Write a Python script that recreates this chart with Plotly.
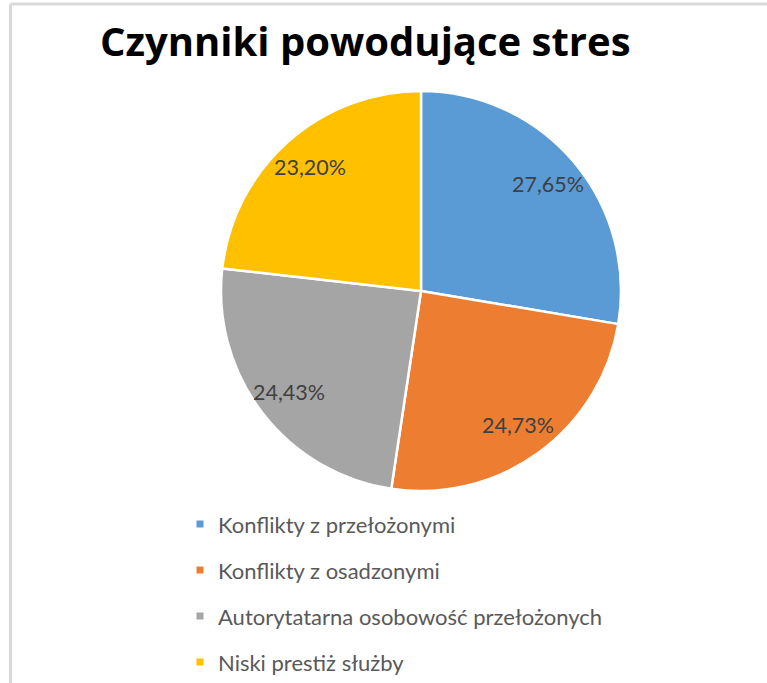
import math
import plotly.graph_objects as go

# Data
labels = [
    "Konflikty z przełożonymi",
    "Konflikty z osadzonymi",
    "Autorytatarna osobowość przełożonych",
    "Niski prestiż służby",
]
values = [27.65, 24.73, 24.43, 23.20]
value_texts = ["27,65%", "24,73%", "24,43%", "23,20%"]
colors = ["#5B9BD5", "#ED7D31", "#A5A5A5", "#FFC000"]
title_text = "Czynniki powodujące stres"

W, H = 767, 683

# Pie geometry in pixels
cx, cy, R = 421, 291, 200
dom_x = [(cx - R) / W, (cx + R) / W]
dom_y = [(H - (cy + R)) / H, (H - (cy - R)) / H]

fig = go.Figure()
fig.add_trace(go.Pie(
    labels=labels,
    values=values,
    sort=False,
    direction="clockwise",
    rotation=0,
    marker=dict(colors=colors, line=dict(color="white", width=2.5)),
    textinfo="none",
    hoverinfo="label+percent",
    showlegend=False,
    domain=dict(x=dom_x, y=dom_y),
))

annotations = []
shapes = []

# Value labels placed along each slice's mid-angle
total = sum(values)
cum = 0.0
label_r = 0.83 * R
for v, t in zip(values, value_texts):
    mid = (cum + v / 2) / total * 2 * math.pi
    cum += v
    px = cx + label_r * math.sin(mid)
    py = cy - label_r * math.cos(mid)
    annotations.append(dict(
        x=px / W, y=1 - py / H, xref="paper", yref="paper",
        text=t, showarrow=False, xanchor="center", yanchor="middle",
        font=dict(family="Lato, sans-serif", size=21.5, color="#404040"),
    ))

# Title
annotations.append(dict(
    x=365 / W, y=1 - 40 / H, xref="paper", yref="paper",
    text="<b>" + title_text + "</b>", showarrow=False,
    xanchor="center", yanchor="middle",
    font=dict(family="Open Sans, sans-serif", size=40, color="#000000"),
))

# Legend (vertical list below the pie)
leg_x_marker = 200
leg_x_text = 216
leg_y0 = 524
leg_dy = 46
for i, (lab, col) in enumerate(zip(labels, colors)):
    yy = leg_y0 + i * leg_dy
    shapes.append(dict(
        type="rect", xref="paper", yref="paper",
        x0=(leg_x_marker - 3.5) / W, x1=(leg_x_marker + 3.5) / W,
        y0=1 - (yy + 3.5) / H, y1=1 - (yy - 3.5) / H,
        fillcolor=col, line=dict(width=0),
    ))
    annotations.append(dict(
        x=leg_x_text / W, y=1 - yy / H, xref="paper", yref="paper",
        text=lab, showarrow=False, xanchor="left", yanchor="middle",
        font=dict(family="Lato, sans-serif", size=22, color="#595959"),
    ))

# Chart-area border (top and left edges)
shapes.append(dict(type="line", xref="paper", yref="paper",
                   x0=10.5 / W, x1=1, y0=1 - 4 / H, y1=1 - 4 / H,
                   line=dict(color="#D9D9D9", width=3)))
shapes.append(dict(type="line", xref="paper", yref="paper",
                   x0=10.5 / W, x1=10.5 / W, y0=0, y1=1 - 4 / H,
                   line=dict(color="#D9D9D9", width=3)))

fig.update_layout(
    width=W, height=H,
    margin=dict(l=0, r=0, t=0, b=0),
    paper_bgcolor="white",
    plot_bgcolor="white",
    annotations=annotations,
    shapes=shapes,
)

fig.write_html("out.html")
